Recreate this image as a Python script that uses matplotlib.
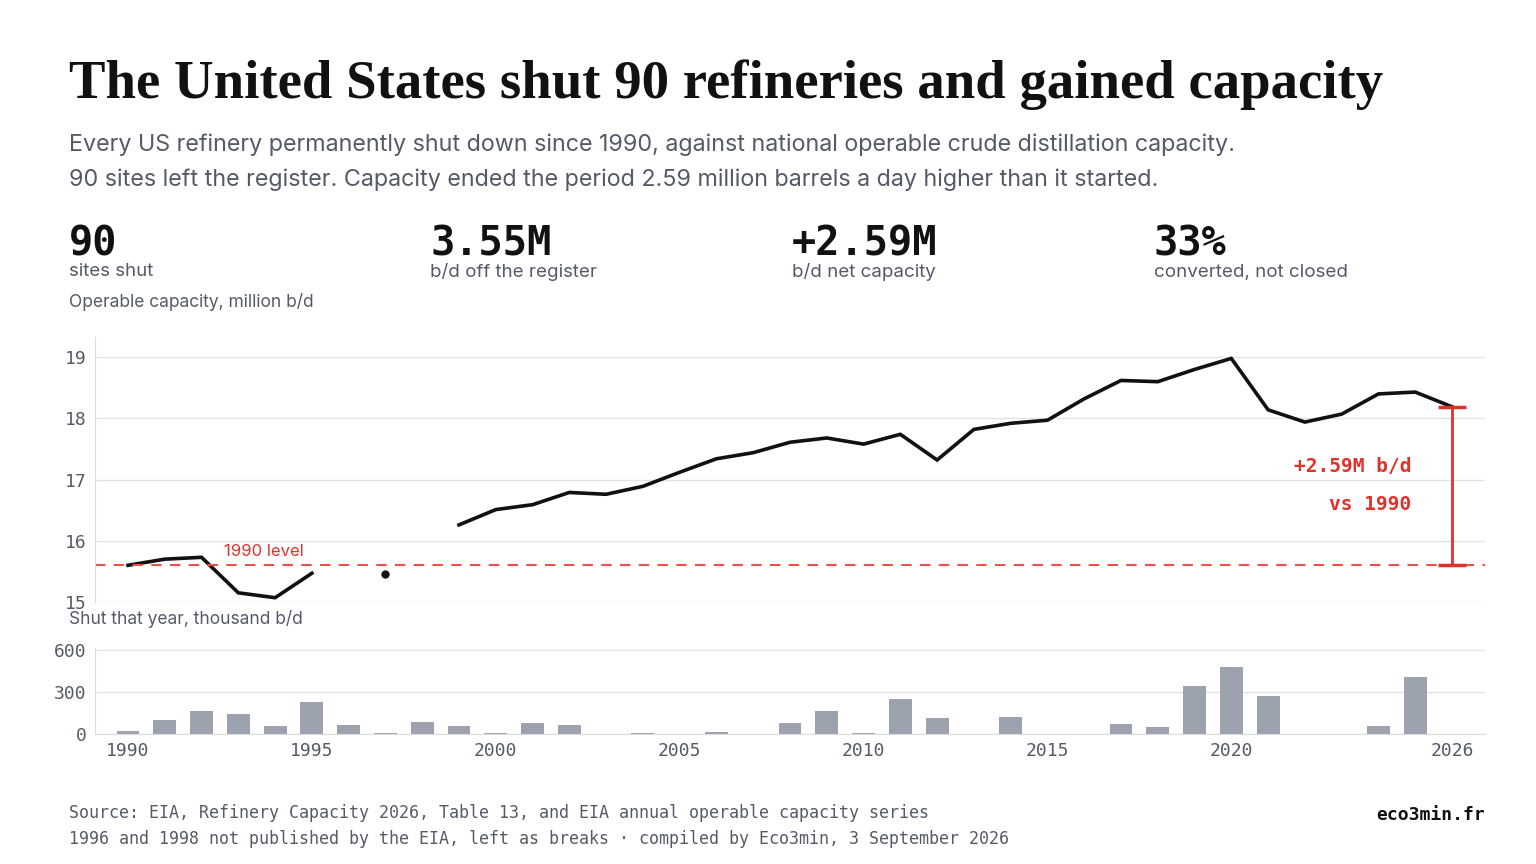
import matplotlib
matplotlib.use("Agg")
import matplotlib.pyplot as plt
import numpy as np

years = list(range(1990, 2027))
cap_years = [1990,1991,1992,1993,1994,1995,1996,1997,1998,1999,2000,2001,2002,2003,2004,2005,2006,2007,2008,2009,2010,2011,2012,2013,2014,2015,2016,2017,2018,2019,2020,2021,2022,2023,2024,2025,2026]
capacity = [15.60,15.70,15.73,15.15,15.07,15.47,np.nan,15.45,np.nan,16.26,16.51,16.59,16.79,16.76,16.89,17.12,17.34,17.44,17.61,17.68,17.58,17.74,17.32,17.82,17.92,17.97,18.32,18.62,18.60,18.80,18.98,18.14,17.94,18.07,18.40,18.43,18.19]
shut = [20,100,165,145,60,230,65,8,85,60,8,80,65,0,8,0,15,0,80,165,8,250,115,0,125,0,0,70,50,340,480,270,0,0,60,410,0]
base_1990 = 15.60

SANS = ["Inter", "DejaVu Sans"]
MONO = "DejaVu Sans Mono"
GREY = "#555b66"
RED = "#e0322b"

fig = plt.figure(figsize=(15.36, 8.64), dpi=100)
fig.patch.set_facecolor("white")

def T(x, y, s, **kw):
    fig.text(x/1536, 1 - y/864, s, **kw)

T(69, 85, "The United States shut 90 refineries and gained capacity", family="Liberation Serif",
  fontweight="bold", fontsize=39.4, color="#111111", va="center")
T(69, 145, "Every US refinery permanently shut down since 1990, against national operable crude distillation capacity.",
  family=SANS, fontsize=16.8, color=GREY, va="center")
T(69, 180, "90 sites left the register. Capacity ended the period 2.59 million barrels a day higher than it started.",
  family=SANS, fontsize=16.8, color=GREY, va="center")

stats = [("90", "sites shut"), ("3.55M", "b/d off the register"), ("+2.59M", "b/d net capacity"), ("33%", "converted, not closed")]
for i, (big, small) in enumerate(stats):
    x = 69 + i * 361.5
    T(x, 244, big, family=MONO, fontweight="bold", fontsize=29, color="#111111", va="center")
    T(x, 272, small, family=SANS, fontsize=13.5, color=GREY, va="center")

T(69, 302, "Operable capacity, million b/d", family=SANS, fontsize=12.5, color=GREY, va="center")
T(69, 619, "Shut that year, thousand b/d", family=SANS, fontsize=12.5, color=GREY, va="center")

xl = (1990 - 33/36.78, 2026 + 33/36.78)

ax = fig.add_axes([95/1536, 1 - 602/864, 1390/1536, 265/864])
ax.plot(cap_years, capacity, color="#111111", lw=2.6, solid_joinstyle="miter")
ax.plot([1997], [15.45], "o", color="#111111", ms=5)
ax.axhline(base_1990, color="#e8524a", lw=1.5, ls=(0, (5, 4)))
ax.text(1992.6, base_1990 + 0.1, "1990 level", color=RED, family=SANS, fontsize=12, va="bottom")
ax.errorbar([2026], [(base_1990 + capacity[-1]) / 2], yerr=[(capacity[-1] - base_1990) / 2],
            color=RED, lw=2, capsize=10, capthick=2.5)
ax.text(2024.9, 17.22, "+2.59M b/d", color=RED, family=MONO, fontweight="bold", fontsize=14, ha="right", va="center")
ax.text(2024.9, 16.59, "vs 1990", color=RED, family=MONO, fontweight="bold", fontsize=14, ha="right", va="center")
ax.set_xlim(xl)
ax.set_ylim(15, 19.33)
ax.set_yticks([15, 16, 17, 18, 19])
ax.set_xticks([])
ax.grid(axis="y", color="#e3e3e3", lw=1)
ax.set_axisbelow(True)
for s in ["top", "right", "bottom"]:
    ax.spines[s].set_visible(False)
ax.spines["left"].set_color("#dddddd")
ax.tick_params(axis="y", length=0, labelsize=13, labelcolor=GREY, pad=6)
for lab in ax.get_yticklabels():
    lab.set_family(MONO)

bx = fig.add_axes([95/1536, 1 - 734/864, 1390/1536, 86/864])
bx.bar(years, shut, width=0.62, color="#9ca2ae")
bx.set_xlim(xl)
bx.set_ylim(0, 615)
bx.set_yticks([0, 300, 600])
bx.set_xticks([1990, 1995, 2000, 2005, 2010, 2015, 2020, 2026])
bx.grid(axis="y", color="#e3e3e3", lw=1)
bx.set_axisbelow(True)
for s in ["top", "right"]:
    bx.spines[s].set_visible(False)
bx.spines["left"].set_color("#dddddd")
bx.spines["bottom"].set_color("#dddddd")
bx.tick_params(length=0, labelsize=13, labelcolor=GREY, pad=6)
for lab in bx.get_yticklabels() + bx.get_xticklabels():
    lab.set_family(MONO)

T(69, 813, "Source: EIA, Refinery Capacity 2026, Table 13, and EIA annual operable capacity series",
  family=MONO, fontsize=12, color=GREY, va="center")
T(69, 839, "1996 and 1998 not published by the EIA, left as breaks · compiled by Eco3min, 3 September 2026",
  family=MONO, fontsize=12, color=GREY, va="center")
T(1485, 815, "eco3min.fr", family=MONO, fontweight="bold", fontsize=13, color="#111111", va="center", ha="right")

fig.savefig("out.png", dpi=100)
